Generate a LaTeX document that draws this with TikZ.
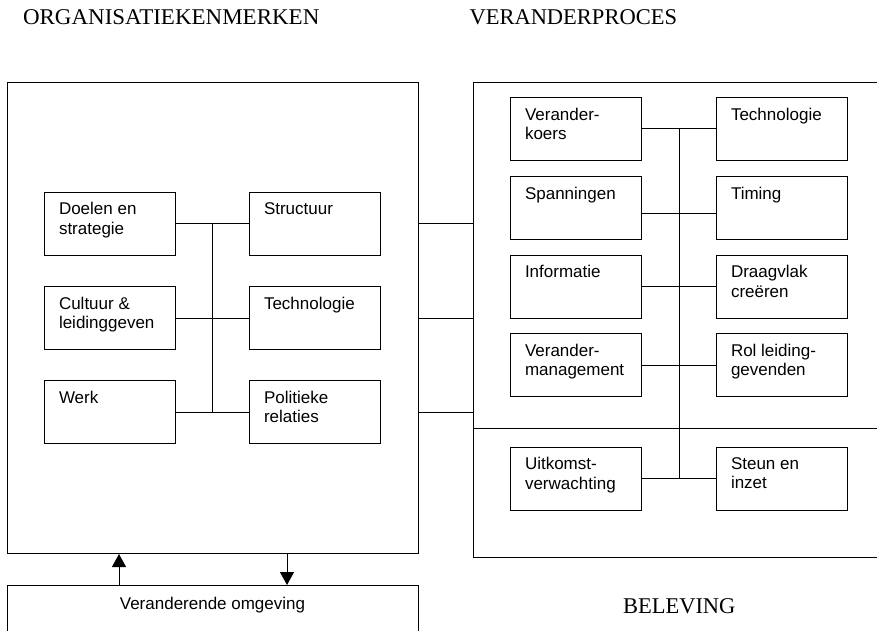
\documentclass[tikz,border=0pt]{standalone}
\usepackage{fontspec}
\setmainfont{Liberation Serif}
\newfontfamily\itemfamily{Liberation Sans}
\usetikzlibrary{arrows.meta,calc}

\newcommand{\itemfont}{\itemfamily\fontsize{17}{19.5}\selectfont}
\newcommand{\titlefont}{\rmfamily\fontsize{22.5}{26}\selectfont}
% text block anchored to the top of a fixed-size box
\newcommand{\boxtxt}[1]{\parbox[c][42pt][t]{101pt}{\raggedright #1}}

\begin{document}
\begin{tikzpicture}[x=1pt,y=-1pt,
  line width=1pt,
  frame/.style={draw, rectangle, inner sep=0pt, anchor=north west},
  item/.style={draw, rectangle, inner xsep=15pt, inner ysep=10.5pt, font=\itemfont},
  title/.style={inner sep=0pt, anchor=base west, font=\titlefont},
  flow/.style={-{Triangle[width=14pt,length=13pt]}}
]
\useasboundingbox (0,0) rectangle (877,631);
\clip (0,0) rectangle (877,631);

% headings
\node[title, xscale=1.022] (ttlorg)  at (22.5,24.3)  {ORGANISATIEKENMERKEN};
\node[title] (ttlproc) at (469,24.3)   {VERANDERPROCES};
\node[title] (ttlbel)  at (622.5,613.3) {BELEVING};

% outer frames
\node[frame, minimum width=411pt, minimum height=471pt] (org)  at (7,82) {};
\node[frame, minimum width=440pt, minimum height=475pt] (proc) at (473,82) {};
\node[frame, minimum width=411pt, minimum height=80pt]  (env)  at (7,585) {};
\node[inner sep=0pt, anchor=base, font=\itemfont] (envtxt) at (212.5,609) {Veranderende omgeving};

% divider between process and experience part
\coordinate (divy) at (0,428);
\draw (proc.west |- divy) -- (proc.east |- divy);

% organisation characteristics
\node[item] (doel)  at (109.5,223.5) {\boxtxt{Doelen en\\strategie}};
\node[item] (cult)  at (109.5,318)   {\boxtxt{Cultuur \&\\leidinggeven}};
\node[item] (werk)  at (109.5,412)   {\boxtxt{Werk}};
\node[item] (struc) at (314.5,223.5) {\boxtxt{Structuur}};
\node[item] (techl) at (314.5,318)   {\boxtxt{Technologie}};
\node[item] (poli)  at (314.5,412)   {\boxtxt{Politieke\\relaties}};

\coordinate (lspine) at (212,0);
\draw (doel.east) -- (struc.west);
\draw (cult.east) -- (techl.west);
\draw (werk.east) -- (poli.west);
\draw (lspine |- doel.east) -- (lspine |- werk.east);

% change process and experience
\node[item] (koers) at (575.5,129)   {\boxtxt{Verander-\\koers}};
\node[item] (span)  at (575.5,208)   {\boxtxt{Spanningen}};
\node[item] (info)  at (575.5,286.5) {\boxtxt{Informatie}};
\node[item] (vman)  at (575.5,365)   {\boxtxt{Verander-\\management}};
\node[item] (uitk)  at (575.5,478.5) {\boxtxt{Uitkomst-\\verwachting}};
\node[item] (techr) at (781.5,129)   {\boxtxt{Technologie}};
\node[item] (timi)  at (781.5,208)   {\boxtxt{Timing}};
\node[item] (draag) at (781.5,286.5) {\boxtxt{Draagvlak\\creëren}};
\node[item] (rol)   at (781.5,365)   {\boxtxt{Rol leiding-\\gevenden}};
\node[item] (steun) at (781.5,478.5) {\boxtxt{Steun en\\inzet}};

\coordinate (rspine) at (679,0);
\draw (koers.east) -- (techr.west);
\draw ($(span.east)+(0,5)$) -- ($(timi.west)+(0,5)$);
\draw (info.east) -- (draag.west);
\draw (vman.east) -- (rol.west);
\draw (uitk.east) -- (steun.west);
\draw (rspine |- koers.east) -- (rspine |- uitk.east);

% links between the two frames
\draw (org.east |- struc.east) -- (proc.west |- struc.east);
\draw (org.east |- techl.east) -- (proc.west |- techl.east);
\draw (org.east |- poli.east)  -- (proc.west |- poli.east);

% exchange with the changing environment
\coordinate (upx) at (119,0);
\coordinate (downx) at (287,0);
\draw[flow] (env.north -| upx) -- (org.south -| upx);
\draw[flow] (org.south -| downx) -- (env.north -| downx);
\end{tikzpicture}
\end{document}
